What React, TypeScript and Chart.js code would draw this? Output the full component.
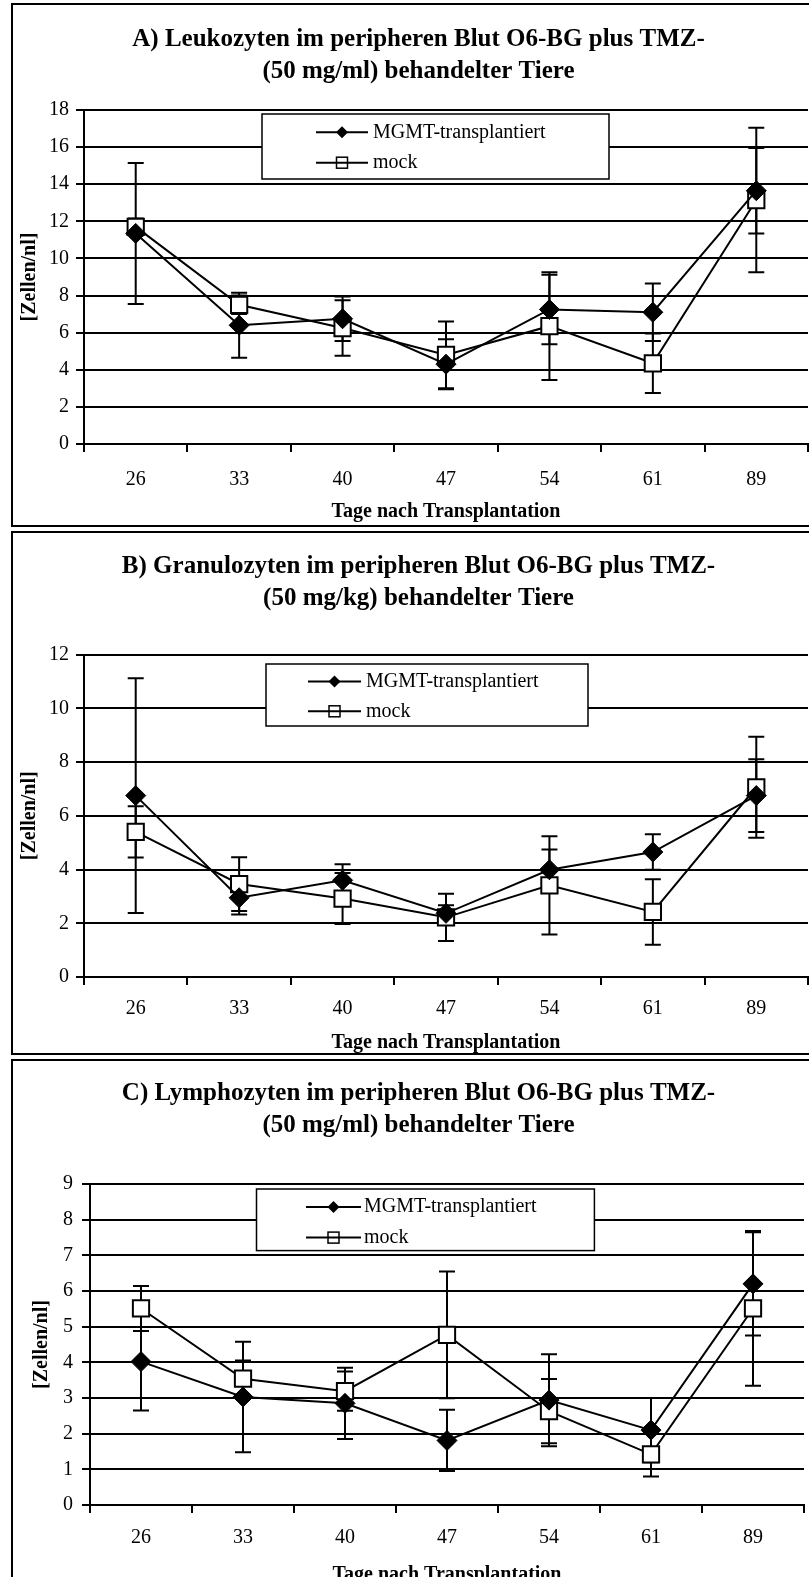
import React, { useEffect, useRef } from 'react';
import { Chart, registerables } from 'chart.js';

Chart.register(...registerables);

// ---------------- data ----------------
const categories = ['26', '33', '40', '47', '54', '61', '89'];
const seriesNames = ['MGMT-transplantiert', 'mock'];
const xAxisTitle = 'Tage nach Transplantation';
const yAxisTitle = '[Zellen/nl]';

const titleA = ['A) Leukozyten im peripheren Blut O6-BG plus TMZ-', '(50 mg/ml) behandelter Tiere'];
const titleB = ['B) Granulozyten im peripheren Blut O6-BG plus TMZ-', '(50 mg/kg) behandelter Tiere'];
const titleC = ['C) Lymphozyten im peripheren Blut O6-BG plus TMZ-', '(50 mg/ml) behandelter Tiere'];

const leukoMgmt = [11.35, 6.4, 6.75, 4.3, 7.25, 7.1, 13.65];
const leukoMgmtErr = [3.8, 1.75, 1.2, 1.35, 1.87, 1.55, 2.3];
const leukoMock = [11.7, 7.5, 6.25, 4.8, 6.35, 4.35, 13.15];
const leukoMockErr = [0.45, 0.5, 1.5, 1.8, 2.9, 1.6, 3.9];

const granuloMgmt = [6.75, 2.95, 3.6, 2.37, 3.99, 4.65, 6.75];
const granuloMgmtErr = [4.37, 0.62, 0.6, 0.3, 0.75, 0.66, 1.35];
const granuloMock = [5.4, 3.46, 2.92, 2.22, 3.41, 2.42, 7.06];
const granuloMockErr = [0.95, 1.0, 0.95, 0.88, 1.83, 1.22, 1.88];

const lymphoMgmt = [4.02, 3.03, 2.85, 1.81, 2.94, 2.1, 6.2];
const lymphoMgmtErr = [1.37, 1.55, 1.0, 0.86, 1.29, 0.9, 1.45];
const lymphoMock = [5.51, 3.54, 3.19, 4.77, 2.63, 1.42, 5.51];
const lymphoMockErr = [0.63, 0.51, 0.55, 1.78, 0.9, 0.62, 2.17];

const yMaxA = 18, yStepA = 2;
const yMaxB = 12, yStepB = 2;
const yMaxC = 9, yStepC = 1;

// ---------------- styling / layout ----------------
const SERIF = "'Liberation Serif', 'Times New Roman', Times, serif";
const CANVAS_W = 837;

type Layout = {
  top: number;
  height: number;
  titlePadTop: number;
  titlePadBottom: number;
  yWidth: number;
  yTitlePad: number;
  yTickPad: number;
  xHeight: number;
  xTickPad: number;
  xTitlePad: number;
  rightPad: number;
  legend: { x0: number; x1: number; y0: number; y1: number; rows: number[]; lineX0: number; lineX1: number; markX: number; textX: number };
};

const layoutA: Layout = {
  top: 3, height: 524, titlePadTop: 20.5, titlePadBottom: 22.5, yWidth: 84, yTitlePad: 17.7, yTickPad: 7,
  xHeight: 83, xTickPad: 16, xTitlePad: 3, rightPad: 29,
  legend: { x0: 262, x1: 609, y0: 111, y1: 176, rows: [129.3, 159.7], lineX0: 316, lineX1: 368, markX: 342, textX: 373 },
};
const layoutB: Layout = {
  top: 531, height: 524, titlePadTop: 19.5, titlePadBottom: 40, yWidth: 84, yTitlePad: 17.7, yTickPad: 7,
  xHeight: 78, xTickPad: 12, xTitlePad: 0.5, rightPad: 29,
  legend: { x0: 266, x1: 588, y0: 133, y1: 195, rows: [150.6, 180.3], lineX0: 308, lineX1: 361, markX: 334.5, textX: 366 },
};
const layoutC: Layout = {
  top: 1059, height: 530, titlePadTop: 18.9, titlePadBottom: 42.1, yWidth: 90, yTitlePad: 29.8, yTickPad: 9,
  xHeight: 84, xTickPad: 13, xTitlePad: 2.5, rightPad: 33,
  legend: { x0: 256.5, x1: 594.4, y0: 130, y1: 191.6, rows: [148, 178.6], lineX0: 306, lineX1: 361, markX: 333.5, textX: 364 },
};

// ---------------- plugins ----------------
const errorBarPlugin = {
  id: 'errorBars',
  beforeDatasetsDraw(chart: any) {
    const ctx = chart.ctx;
    const yScale = chart.scales.y;
    ctx.save();
    ctx.strokeStyle = '#000';
    ctx.lineWidth = 2;
    chart.data.datasets.forEach((ds: any, i: number) => {
      const meta = chart.getDatasetMeta(i);
      meta.data.forEach((pt: any, j: number) => {
        const v = ds.data[j];
        const e = ds.errors[j];
        const x = pt.x;
        const yHi = yScale.getPixelForValue(v + e);
        const yLo = yScale.getPixelForValue(v - e);
        ctx.beginPath();
        ctx.moveTo(x, yHi);
        ctx.lineTo(x, yLo);
        ctx.moveTo(x - 8, yHi);
        ctx.lineTo(x + 8, yHi);
        ctx.moveTo(x - 8, yLo);
        ctx.lineTo(x + 8, yLo);
        ctx.stroke();
      });
    });
    ctx.restore();
  },
};

const boxLegendPlugin = {
  id: 'boxLegend',
  afterDraw(chart: any, _args: any, opts: any) {
    const L = opts.box;
    if (!L) return;
    const ctx = chart.ctx;
    ctx.save();
    ctx.fillStyle = '#fff';
    ctx.fillRect(L.x0, L.y0, L.x1 - L.x0, L.y1 - L.y0);
    ctx.strokeStyle = '#000';
    ctx.lineWidth = 1.5;
    ctx.strokeRect(L.x0, L.y0, L.x1 - L.x0, L.y1 - L.y0);
    chart.data.datasets.forEach((ds: any, i: number) => {
      const y = L.rows[i];
      ctx.strokeStyle = '#000';
      ctx.lineWidth = 2;
      ctx.beginPath();
      ctx.moveTo(L.lineX0, y);
      ctx.lineTo(L.lineX1, y);
      ctx.stroke();
      const mx = L.markX;
      if (ds.pointStyle === 'rectRot') {
        ctx.fillStyle = '#000';
        ctx.beginPath();
        ctx.moveTo(mx, y - 6);
        ctx.lineTo(mx + 6, y);
        ctx.lineTo(mx, y + 6);
        ctx.lineTo(mx - 6, y);
        ctx.closePath();
        ctx.fill();
      } else {
        ctx.lineWidth = 1.5;
        ctx.strokeRect(mx - 5.5, y - 5.5, 11, 11);
      }
      ctx.fillStyle = '#000';
      ctx.font = `20px ${SERIF}`;
      ctx.textAlign = 'left';
      ctx.textBaseline = 'middle';
      ctx.fillText(ds.label, L.textX, y);
    });
    ctx.restore();
  },
};

// ---------------- panel ----------------
type PanelProps = {
  title: string[];
  mgmt: number[];
  mgmtErr: number[];
  mock: number[];
  mockErr: number[];
  yMax: number;
  yStep: number;
  layout: Layout;
};

function Panel({ title, mgmt, mgmtErr, mock, mockErr, yMax, yStep, layout }: PanelProps) {
  const ref = useRef<HTMLCanvasElement>(null);

  useEffect(() => {
    if (!ref.current) return;
    const chart = new Chart(ref.current, {
      type: 'line',
      data: {
        labels: categories,
        datasets: [
          {
            label: seriesNames[0],
            data: mgmt,
            errors: mgmtErr,
            borderColor: '#000',
            borderWidth: 2,
            pointStyle: 'rectRot',
            pointRadius: 10,
            pointBackgroundColor: '#000',
            pointBorderColor: '#000',
            pointBorderWidth: 1,
            tension: 0,
            fill: false,
          } as any,
          {
            label: seriesNames[1],
            data: mock,
            errors: mockErr,
            borderColor: '#000',
            borderWidth: 2,
            pointStyle: 'rect',
            pointRadius: 11.5,
            pointBackgroundColor: '#fff',
            pointBorderColor: '#000',
            pointBorderWidth: 2,
            tension: 0,
            fill: false,
          } as any,
        ],
      },
      options: {
        responsive: false,
        animation: false,
        events: [],
        layout: { padding: 0 },
        plugins: {
          legend: { display: false },
          tooltip: { enabled: false },
          title: {
            display: true,
            text: title,
            color: '#000',
            font: { family: SERIF, size: 25, weight: 'bold', lineHeight: 32 / 25 },
            padding: { top: layout.titlePadTop, bottom: layout.titlePadBottom },
          },
          boxLegend: { box: layout.legend },
        } as any,
        scales: {
          x: {
            type: 'category',
            offset: true,
            grid: { offset: true, drawOnChartArea: false, drawTicks: true, tickLength: 8, color: '#000', lineWidth: 2 },
            border: { display: true, color: '#000', width: 2 },
            ticks: { color: '#000', font: { family: SERIF, size: 20 }, padding: layout.xTickPad, maxRotation: 0, autoSkip: false },
            title: {
              display: true,
              text: xAxisTitle,
              color: '#000',
              font: { family: SERIF, size: 20, weight: 'bold' },
              padding: { top: 0, bottom: layout.xTitlePad },
            },
            afterFit: (s: any) => { s.height = layout.xHeight; },
          },
          y: {
            min: 0,
            max: yMax,
            grid: { color: '#000', lineWidth: 2, drawTicks: true, tickLength: 8 },
            border: { display: true, color: '#000', width: 2 },
            ticks: { stepSize: yStep, color: '#000', font: { family: SERIF, size: 20 }, padding: layout.yTickPad },
            title: {
              display: true,
              text: yAxisTitle,
              color: '#000',
              font: { family: SERIF, size: 20, weight: 'bold' },
              padding: { top: layout.yTitlePad, bottom: 0 },
            },
            afterFit: (s: any) => { s.width = layout.yWidth; },
          },
          // empty spacer on the right (the original figure is cropped there)
          spacer: {
            type: 'linear',
            position: 'right',
            display: true,
            grid: { display: false, drawTicks: false },
            border: { display: false },
            ticks: { display: false },
            afterFit: (s: any) => { s.width = layout.rightPad; },
          },
        } as any,
      },
      plugins: [errorBarPlugin, boxLegendPlugin],
    } as any);
    return () => chart.destroy();
  }, []);

  return (
    <canvas
      ref={ref}
      width={CANVAS_W}
      height={layout.height}
      style={{ position: 'absolute', left: 0, top: layout.top, width: CANVAS_W, height: layout.height, display: 'block' }}
    />
  );
}

function Frame({ top, height }: { top: number; height: number }) {
  return (
    <div
      style={{
        position: 'absolute',
        left: 11,
        top,
        width: 830,
        height,
        border: '2px solid #000',
        boxSizing: 'border-box',
        pointerEvents: 'none',
      }}
    />
  );
}

export default function App() {
  return (
    <div style={{ position: 'fixed', left: 0, top: 0, width: 809, height: 1577, overflow: 'hidden', background: '#fff' }}>
      <Panel title={titleA} mgmt={leukoMgmt} mgmtErr={leukoMgmtErr} mock={leukoMock} mockErr={leukoMockErr} yMax={yMaxA} yStep={yStepA} layout={layoutA} />
      <Panel title={titleB} mgmt={granuloMgmt} mgmtErr={granuloMgmtErr} mock={granuloMock} mockErr={granuloMockErr} yMax={yMaxB} yStep={yStepB} layout={layoutB} />
      <Panel title={titleC} mgmt={lymphoMgmt} mgmtErr={lymphoMgmtErr} mock={lymphoMock} mockErr={lymphoMockErr} yMax={yMaxC} yStep={yStepC} layout={layoutC} />
      <Frame top={3} height={524} />
      <Frame top={531} height={524} />
      <Frame top={1059} height={600} />
    </div>
  );
}
